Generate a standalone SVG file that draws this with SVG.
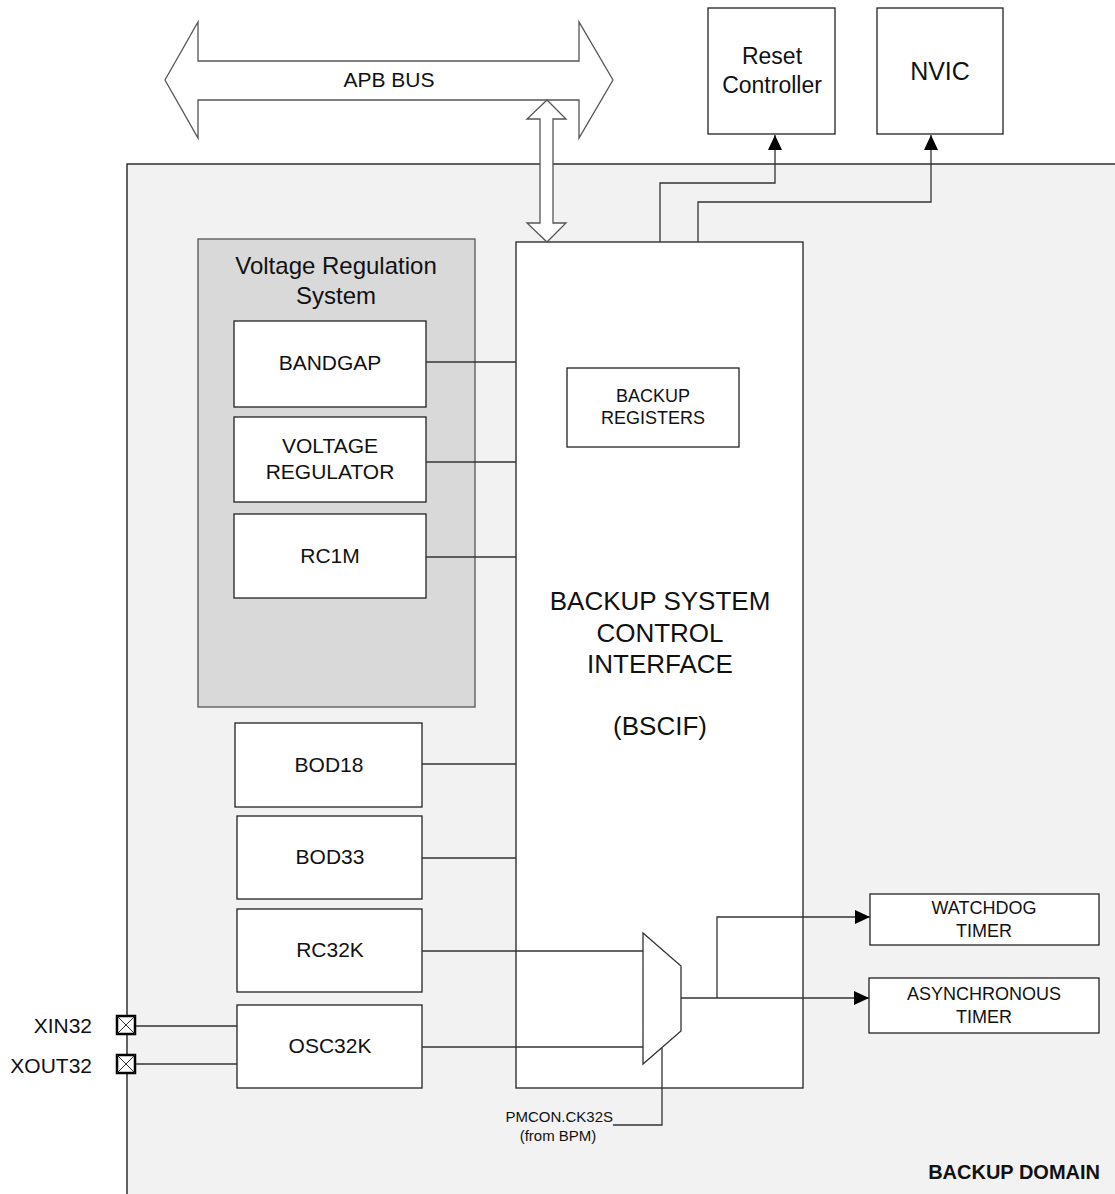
<svg xmlns="http://www.w3.org/2000/svg" width="1115" height="1194" viewBox="0 0 1115 1194">
<style>
text{font-family:"Liberation Sans",Arial,sans-serif;fill:#111}
.box{fill:#fff;stroke:#222;stroke-width:1.3}
.ln{fill:none;stroke:#333;stroke-width:1.3}
.big{font-size:21px;text-anchor:middle}
.mid{font-size:18px;text-anchor:middle}
</style>
<defs>
<marker id="ah" markerWidth="16" markerHeight="14" refX="15" refY="7" orient="auto" markerUnits="userSpaceOnUse">
<path d="M0,0 L15,7 L0,14 Z" fill="#000"/>
</marker>
</defs>

<g id="backup-domain">
<rect x="127" y="164" width="1100" height="1100" fill="#f2f2f2" stroke="#111" stroke-width="1.3"/>
<text x="1100" y="1179" font-size="20" font-weight="bold" text-anchor="end">BACKUP DOMAIN</text>
</g>

<g id="apb-bus">
<polygon points="165,80 198,22 198,61 579,61 579,22 613,80 579,138 579,100 198,100 198,138" fill="#fff" stroke="#555" stroke-width="1.3"/>
<text x="389" y="87" class="big">APB BUS</text>
</g>

<g id="reset-controller">
<rect x="708" y="8" width="127" height="126" class="box"/>
<text x="772" y="64" font-size="23" text-anchor="middle">Reset</text>
<text x="772" y="93" font-size="23" text-anchor="middle">Controller</text>
</g>

<g id="nvic">
<rect x="877" y="8" width="126" height="126" class="box"/>
<text x="940" y="80" font-size="25" text-anchor="middle">NVIC</text>
</g>

<g id="voltage-regulation-system">
<rect x="198" y="239" width="277" height="468" fill="#d9d9d9" stroke="#555" stroke-width="1.3"/>
<text x="336" y="274" font-size="24" text-anchor="middle">Voltage Regulation</text>
<text x="336" y="304" font-size="24" text-anchor="middle">System</text>
</g>

<g id="bandgap">
<rect x="234" y="321" width="192" height="86" class="box"/>
<text x="330" y="370" class="big">BANDGAP</text>
</g>
<g id="voltage-regulator">
<rect x="234" y="417" width="192" height="85" class="box"/>
<text x="330" y="453" class="big">VOLTAGE</text>
<text x="330" y="479" class="big">REGULATOR</text>
</g>
<g id="rc1m">
<rect x="234" y="514" width="192" height="84" class="box"/>
<text x="330" y="563" class="big">RC1M</text>
</g>
<g id="bod18">
<rect x="235" y="723" width="187" height="84" class="box"/>
<text x="329" y="772" class="big">BOD18</text>
</g>
<g id="bod33">
<rect x="237" y="816" width="185" height="83" class="box"/>
<text x="330" y="864" class="big">BOD33</text>
</g>
<g id="rc32k">
<rect x="237" y="909" width="185" height="83" class="box"/>
<text x="330" y="957" class="big">RC32K</text>
</g>
<g id="osc32k">
<rect x="237" y="1005" width="185" height="83" class="box"/>
<text x="330" y="1053" class="big">OSC32K</text>
</g>

<g id="bscif">
<rect x="516" y="242" width="287" height="846" class="box"/>
<text x="660" y="610" font-size="26" text-anchor="middle">BACKUP SYSTEM</text>
<text x="660" y="642" font-size="26" text-anchor="middle">CONTROL</text>
<text x="660" y="673" font-size="26" text-anchor="middle">INTERFACE</text>
<text x="660" y="735" font-size="26" text-anchor="middle">(BSCIF)</text>
</g>

<g id="backup-registers">
<rect x="567" y="368" width="172" height="79" class="box"/>
<text x="653" y="402" class="mid">BACKUP</text>
<text x="653" y="424" class="mid">REGISTERS</text>
</g>

<g id="watchdog-timer">
<rect x="870" y="894" width="229" height="51" class="box"/>
<text x="984" y="914" class="mid">WATCHDOG</text>
<text x="984" y="937" class="mid">TIMER</text>
</g>
<g id="asynchronous-timer">
<rect x="869" y="978" width="230" height="55" class="box"/>
<text x="984" y="1000" class="mid">ASYNCHRONOUS</text>
<text x="984" y="1023" class="mid">TIMER</text>
</g>

<g id="xin32">
<rect x="117" y="1016" width="18" height="18" fill="#fff" stroke="#000" stroke-width="2.5"/>
<path d="M117,1016 L135,1034 M135,1016 L117,1034" stroke="#333" stroke-width="1"/>
<text x="92" y="1033" font-size="21" text-anchor="end">XIN32</text>
</g>
<g id="xout32">
<rect x="117" y="1055" width="18" height="18" fill="#fff" stroke="#000" stroke-width="2.5"/>
<path d="M117,1055 L135,1073 M135,1055 L117,1073" stroke="#333" stroke-width="1"/>
<text x="92" y="1073" font-size="21" text-anchor="end">XOUT32</text>
</g>

<g id="mux">
<polygon points="643,933 681,966 681,1031 643,1064" fill="#fff" stroke="#333" stroke-width="1.3"/>
</g>

<g id="select-label">
<text x="613" y="1122" font-size="15" text-anchor="end">PMCON.CK32S</text>
<text x="558" y="1141" font-size="15" text-anchor="middle">(from BPM)</text>
</g>

<g id="connectors">
<polygon points="547,100 527,119 540,119 540,223 527,223 547,242 566,223 553,223 553,119 566,119" fill="#fff" stroke="#555" stroke-width="1.3"/>
<path class="ln" d="M660,242 V183 H775 V135" marker-end="url(#ah)"/>
<path class="ln" d="M698,242 V202 H931 V135" marker-end="url(#ah)"/>
<path class="ln" d="M426,362 H516"/>
<path class="ln" d="M426,462 H516"/>
<path class="ln" d="M426,557 H516"/>
<path class="ln" d="M422,764 H516"/>
<path class="ln" d="M422,858 H516"/>
<path class="ln" d="M422,951 H643"/>
<path class="ln" d="M422,1047 H643"/>
<path class="ln" d="M136,1026 H237"/>
<path class="ln" d="M136,1064 H237"/>
<path class="ln" d="M681,998 H869" marker-end="url(#ah)"/>
<path class="ln" d="M717,998 V917 H870" marker-end="url(#ah)"/>
<path class="ln" d="M662,1048 V1125 H613"/>
</g>
</svg>
